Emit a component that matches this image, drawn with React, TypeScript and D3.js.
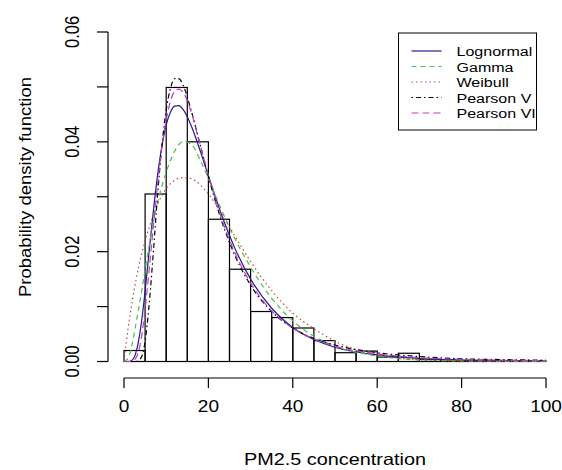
import React from "react";
import * as d3 from "d3";

const width = 562;
const height = 470;

// histogram of PM2.5, 5-unit bins (density)
const binStarts = [0, 5, 10, 15, 20, 25, 30, 35, 40, 45, 50, 55, 60, 65, 70, 75, 80, 85, 90, 95];
const binDensity = [
  0.002, 0.0305, 0.0499, 0.04, 0.0259, 0.0168, 0.0091, 0.008, 0.0061, 0.0038,
  0.0016, 0.0019, 0.0008, 0.0015, 0.0004, 0.0003, 0.0002, 0.0001, 0.0001, 0.0001,
];
const binWidth = 5;

// fitted density curves, read at these concentrations
const curveX = [0, 1, 2, 3, 4, 5, 6, 7, 8, 9, 10, 11, 12, 13, 14, 16, 18, 20, 23, 26, 30, 35, 40, 45, 50, 60, 70, 80, 90, 100];
const lognormal = [
  0, 0, 0.0003, 0.0021, 0.0064, 0.0128, 0.0204, 0.0277, 0.0342, 0.0393, 0.0431, 0.0454, 0.0465, 0.0466, 0.0459,
  0.0428, 0.0385, 0.0338, 0.027, 0.0211, 0.015, 0.0097, 0.0062, 0.004, 0.0026, 0.0012, 0.00055, 0.00027, 0.00014, 0.00007,
];
const gammaFit = [
  0, 0.0006, 0.0035, 0.0076, 0.012, 0.0167, 0.0213, 0.0255, 0.029, 0.032, 0.0345, 0.0366, 0.0383, 0.0395, 0.0401,
  0.0395, 0.0368, 0.0333, 0.0278, 0.0228, 0.0172, 0.0115, 0.0074, 0.0046, 0.0028, 0.001, 0.0003, 0.0001, 0.00003, 0.00001,
];
const weibull = [
  0, 0.0062, 0.0112, 0.0155, 0.019, 0.022, 0.0245, 0.0268, 0.0287, 0.0303, 0.0315, 0.0324, 0.033, 0.0334, 0.0335,
  0.0333, 0.0322, 0.0305, 0.0271, 0.0232, 0.0182, 0.0129, 0.0088, 0.006, 0.0037, 0.0012, 0.0003, 0.00006, 0.00001, 0,
];
const pearson5 = [
  0, 0, 0, 0.00002, 0.0006, 0.0037, 0.0107, 0.0204, 0.0307, 0.0394, 0.0458, 0.0497, 0.0515, 0.0515, 0.0503,
  0.0455, 0.0396, 0.0337, 0.0259, 0.0198, 0.0139, 0.0091, 0.0061, 0.0042, 0.003, 0.0016, 0.0009, 0.0005, 0.00035, 0.00023,
];
const pearson6 = [
  0, 0, 0.0001, 0.0009, 0.0038, 0.0095, 0.017, 0.025, 0.0325, 0.0392, 0.044, 0.0474, 0.0492, 0.0496, 0.049,
  0.0452, 0.0396, 0.0339, 0.0263, 0.0203, 0.0143, 0.0092, 0.0061, 0.0041, 0.0028, 0.0014, 0.0007, 0.0004, 0.00025, 0.00015,
];

const seriesNames = ["Lognormal", "Gamma", "Weibull", "Pearson V", "Pearson VI"];
const seriesValues = [lognormal, gammaFit, weibull, pearson5, pearson6];
const seriesColors = ["#1e1e8c", "#4cbf4c", "#b4503c", "#000000", "#c23cc2"];
const seriesDash = ["none", "5,4", "1.5,3", "1.5,3,5,3", "7,4"];

const xTicks = [0, 20, 40, 60, 80, 100];
const yTicks = [0, 0.01, 0.02, 0.03, 0.04, 0.05, 0.06];
const yLabels = [0, 0.02, 0.04, 0.06];

const font = "'Liberation Sans', Arial, sans-serif";

export default function App() {
  const x = d3.scaleLinear().domain([0, 100]).range([124, 546]);
  const y = d3.scaleLinear().domain([0, 0.06]).range([361.5, 32]);
  const xAxisY = 378;
  const yAxisX = 108;

  const line = d3
    .line<number>()
    .x((_, i) => x(curveX[i]))
    .y((d) => y(d))
    .curve(d3.curveMonotoneX);

  const fmt = d3.format(".2f");

  // legend box + row centres
  const lg = { x: 398.5, y: 33, w: 138, h: 97, first: 51, step: 15.5 };

  return (
    <svg
      width={width}
      height={height}
      style={{ position: "absolute", left: 0, top: 0, background: "#fff" }}
      fontFamily={font}
    >
      <rect width={width} height={height} fill="#fff" />

      {binStarts.map((b, i) => (
        <rect
          key={i}
          x={x(b)}
          y={y(binDensity[i])}
          width={x(b + binWidth) - x(b)}
          height={y(0) - y(binDensity[i])}
          fill="none"
          stroke="#000"
          strokeWidth={1.2}
        />
      ))}

      {seriesValues.map((vals, i) => (
        <path
          key={i}
          d={line(vals) || ""}
          fill="none"
          stroke={seriesColors[i]}
          strokeWidth={1.2}
          strokeDasharray={seriesDash[i]}
        />
      ))}

      {/* x axis */}
      <g stroke="#000" strokeWidth={1.2}>
        <line x1={x(0)} x2={x(100)} y1={xAxisY} y2={xAxisY} />
        {xTicks.map((t) => (
          <line key={t} x1={x(t)} x2={x(t)} y1={xAxisY} y2={xAxisY + 10} />
        ))}
      </g>
      {xTicks.map((t) => (
        <text
          key={t}
          transform={`translate(${x(t)},411.5) scale(1.12,1)`}
          fontSize={17}
          textAnchor="middle"
          fill="#000"
        >
          {t}
        </text>
      ))}
      <text
        x={335}
        y={465}
        fontSize={16.5}
        textAnchor="middle"
        textLength={182}
        lengthAdjust="spacingAndGlyphs"
        fill="#000"
      >
        PM2.5 concentration
      </text>

      {/* y axis */}
      <g stroke="#000" strokeWidth={1.2}>
        <line x1={yAxisX} x2={yAxisX} y1={y(0)} y2={y(0.06)} />
        {yTicks.map((t) => (
          <line key={t} x1={yAxisX - 11} x2={yAxisX} y1={y(t)} y2={y(t)} />
        ))}
      </g>
      {yLabels.map((t) => (
        <text
          key={t}
          transform={`translate(79,${y(t)}) scale(1.17,1) rotate(-90)`}
          fontSize={16.5}
          textAnchor="middle"
          fill="#000"
        >
          {fmt(t)}
        </text>
      ))}
      <text
        transform="translate(31,187) rotate(-90)"
        fontSize={16.5}
        textAnchor="middle"
        textLength={220}
        lengthAdjust="spacingAndGlyphs"
        fill="#000"
      >
        Probability density function
      </text>

      {/* legend */}
      <rect x={lg.x} y={lg.y} width={lg.w} height={lg.h} fill="#fff" stroke="#000" strokeWidth={1} />
      {seriesNames.map((name, i) => {
        const mid = lg.first + i * lg.step;
        return (
          <g key={name}>
            <line
              x1={411.5}
              x2={441.5}
              y1={mid}
              y2={mid}
              stroke={seriesColors[i]}
              strokeWidth={1.2}
              strokeDasharray={seriesDash[i]}
            />
            <text
              transform={`translate(456.5,${mid + 5}) scale(1.17,1)`}
              fontSize={13.7}
              fill="#000"
            >
              {name}
            </text>
          </g>
        );
      })}
    </svg>
  );
}
